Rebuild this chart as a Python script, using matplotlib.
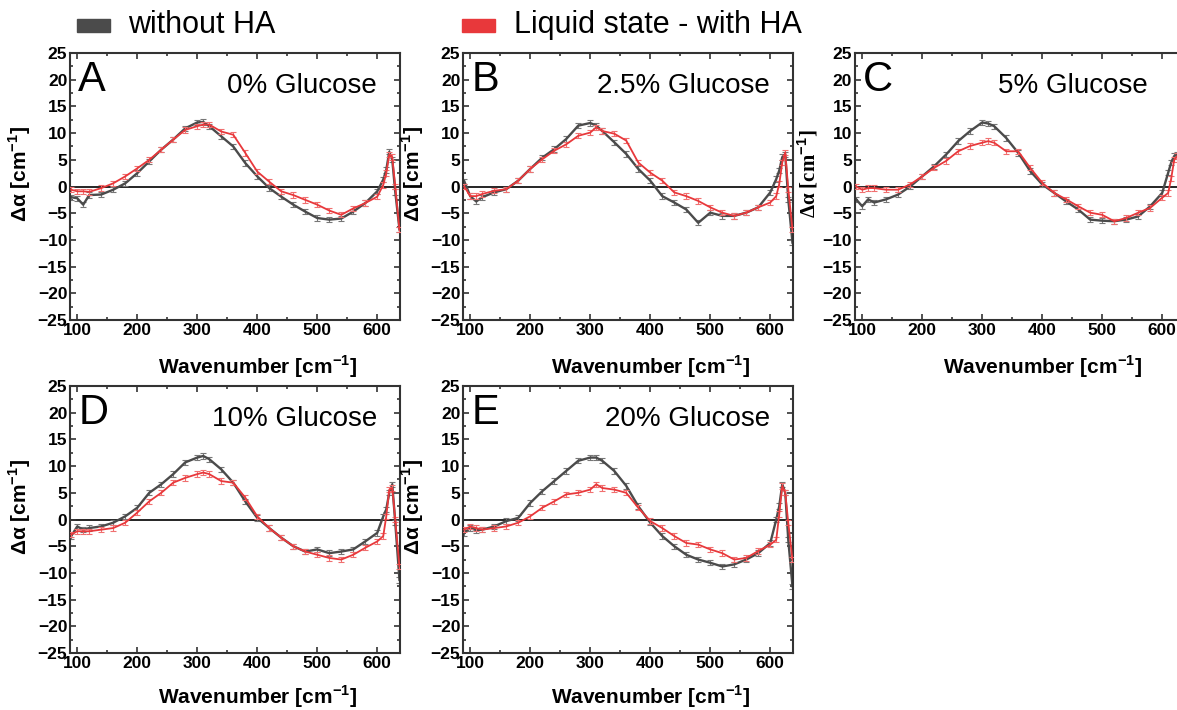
import numpy as np
import matplotlib.pyplot as plt
from matplotlib.patches import Rectangle
from matplotlib.ticker import MultipleLocator

plt.rcParams['font.family'] = ['Liberation Sans', 'DejaVu Sans']
plt.rcParams['mathtext.fontset'] = 'custom'
plt.rcParams['mathtext.rm'] = 'Liberation Sans'
plt.rcParams['mathtext.bf'] = 'Liberation Sans:bold'

# wavenumber grid (cm-1) the curves were read at
wn = [90, 100, 110, 120, 140, 160, 180, 200, 220, 240, 260, 280, 300, 310, 320,
      340, 360, 380, 400, 420, 440, 460, 480, 500, 520, 540, 560, 580, 600,
      610, 615, 620, 625, 630, 637]

# without HA (gray)
a_gray = [-2.0, -2.2, -3.4, -1.6, -1.5, -0.6, 0.6, 2.5, 4.7, 6.9, 8.8, 10.9, 12.0, 12.1, 11.3,
          9.4, 7.5, 4.4, 1.9, -0.3, -1.9, -3.4, -4.7, -5.9, -6.2, -6.0, -4.7, -3.1, -0.9,
          1.3, 3.1, 6.5, 5.0, -1.0, -8.0]
b_gray = [1.0, -1.8, -2.8, -2.0, -1.1, -0.5, 1.1, 3.3, 5.4, 7.0, 8.9, 11.4, 11.9, 11.4, 10.4,
          8.3, 6.1, 3.3, 1.1, -1.8, -3.0, -4.3, -6.8, -4.9, -5.5, -5.5, -4.9, -3.9, -1.1,
          1.4, 3.0, 5.5, 6.0, -2.4, -10.5]
c_gray = [-2.4, -3.7, -2.4, -3.0, -2.4, -1.5, 0.0, 1.9, 3.8, 6.0, 8.5, 10.4, 12.0, 11.8, 11.3,
          9.1, 6.3, 2.9, 0.4, -1.2, -2.8, -4.3, -6.2, -6.4, -6.5, -6.2, -5.6, -3.7, -1.2,
          2.6, 4.5, 5.7, 6.0, 4.0, -4.0]
d_gray = [-3.1, -1.3, -1.9, -1.6, -1.3, -0.6, 0.6, 2.2, 5.0, 6.6, 8.5, 10.7, 11.6, 11.9, 11.3,
          9.4, 6.9, 3.4, 0.3, -1.6, -3.4, -5.0, -6.0, -5.6, -6.3, -6.0, -5.6, -4.1, -2.5,
          0.6, 1.9, 5.0, 6.6, -0.6, -11.3]
e_gray = [-2.5, -1.6, -2.0, -1.9, -1.3, -0.3, 0.3, 3.1, 5.3, 7.2, 9.1, 11.0, 11.6, 11.6, 11.0,
          9.1, 6.3, 2.5, -0.6, -3.1, -5.0, -6.6, -7.5, -8.1, -8.8, -8.4, -7.5, -6.3, -4.4,
          0.0, 2.5, 6.6, 5.0, -3.8, -12.5]

# liquid state - with HA (red)
a_red = [-0.6, -0.9, -0.9, -1.0, -0.3, 0.6, 1.9, 3.4, 5.0, 6.9, 8.8, 10.6, 11.3, 11.6, 11.6,
         10.3, 9.7, 6.3, 2.8, 0.9, -0.9, -1.6, -2.5, -3.4, -4.5, -5.3, -4.1, -3.1, -1.9,
         0.3, 2.5, 6.0, 5.5, 0.0, -8.1]
b_red = [0.0, -1.8, -1.8, -1.4, -0.8, -0.5, 1.1, 3.3, 5.1, 6.7, 7.9, 9.5, 10.1, 11.1, 10.4,
         9.9, 8.6, 4.5, 2.6, 1.1, -1.1, -1.8, -2.7, -3.9, -4.9, -5.5, -4.9, -3.9, -3.0,
         -1.8, 0.5, 4.5, 6.4, -0.5, -8.0]
c_red = [0.0, -0.6, -0.3, -0.3, -0.6, -0.6, 0.4, 1.9, 3.5, 4.8, 6.6, 7.6, 8.2, 8.5, 8.2,
         6.6, 6.6, 3.5, 0.7, -1.2, -2.4, -3.7, -4.9, -5.3, -6.5, -5.9, -4.9, -4.0, -2.1,
         -1.2, 1.5, 5.0, 5.7, 3.0, -5.0]
d_red = [-2.8, -2.2, -2.2, -2.2, -1.9, -1.6, -0.6, 1.3, 3.4, 5.0, 6.9, 7.8, 8.5, 8.8, 8.5,
         7.2, 6.9, 4.1, 0.6, -1.6, -3.4, -5.0, -6.0, -6.6, -7.2, -7.5, -6.6, -5.3, -4.1,
         -3.1, 0.6, 5.6, 5.9, 0.0, -8.8]
e_red = [-1.9, -1.3, -1.6, -1.9, -1.6, -1.3, -0.6, 0.6, 2.2, 3.4, 4.7, 5.0, 5.6, 6.6, 5.9,
         5.6, 5.0, 2.2, -0.3, -1.6, -3.1, -4.4, -4.7, -5.6, -6.3, -7.5, -7.2, -5.9, -4.7,
         -3.8, 1.0, 6.3, 5.0, -0.6, -7.5]

letters = ['A', 'B', 'C', 'D', 'E']
titles = ['0% Glucose', '2.5% Glucose', '5% Glucose', '10% Glucose', '20% Glucose']
title_x = [0.93, 0.93, 0.888, 0.93, 0.93]
grays = [a_gray, b_gray, c_gray, d_gray, e_gray]
reds = [a_red, b_red, c_red, d_red, e_red]

GRAY = '#4b4b4b'
RED = '#e8383b'

fig = plt.figure(figsize=(11.77, 7.10), dpi=100)

W, H = 0.2804, 0.376
pos = [(0.0595, 0.5493), (0.3934, 0.5493), (0.7264, 0.5493),
       (0.0595, 0.0803), (0.3934, 0.0803)]

for i in range(5):
    ax = fig.add_axes([pos[i][0], pos[i][1], W, H])
    ax.axhline(0, color='black', lw=1.2, zorder=1)
    ax.errorbar(wn, grays[i], yerr=0.5, color=GRAY, lw=1.7, elinewidth=0.8,
                ecolor='#777777', capsize=2, capthick=0.8, zorder=2)
    ax.errorbar(wn, reds[i], yerr=0.5, color=RED, lw=1.3, elinewidth=0.8,
                ecolor='#f07070', capsize=2, capthick=0.8, zorder=3)
    ax.set_xlim(88, 638)
    ax.set_ylim(-25, 25)
    ax.xaxis.set_major_locator(MultipleLocator(100))
    ax.xaxis.set_minor_locator(MultipleLocator(50))
    ax.yaxis.set_major_locator(MultipleLocator(5))
    ax.yaxis.set_minor_locator(MultipleLocator(2.5))
    ax.tick_params(which='both', direction='in', top=True, right=True,
                   labelsize=12.5, width=1.2, color='#333333', pad=2)
    ax.tick_params(which='major', length=4.5)
    ax.tick_params(which='minor', length=2.5)
    for lab in ax.get_xticklabels() + ax.get_yticklabels():
        lab.set_fontweight('bold')
    for s in ax.spines.values():
        s.set_linewidth(1.5)
        s.set_color('#333333')
    ax.set_xlabel(r'Wavenumber [cm$^{\mathbf{-1}}$]', fontsize=15, fontweight='bold')
    # bottom row sits right at the figure edge, nudge it up a little
    ax.xaxis.set_label_coords(0.57, -0.125 if i < 3 else -0.113)
    if i == 2:
        ax.set_ylabel(r'Δα [cm$^{\mathbf{-1}}$]', fontsize=15, fontweight='bold',
                      family=['Liberation Serif', 'DejaVu Serif'])
        ax.yaxis.set_label_coords(-0.106, 0.547)
    else:
        ax.set_ylabel(r'Δα [cm$^{\mathbf{-1}}$]', fontsize=15, fontweight='bold')
        ax.yaxis.set_label_coords(-0.113, 0.547)
    ax.text(0.025, 0.975, letters[i], transform=ax.transAxes, fontsize=30,
            va='top', ha='left')
    ax.text(title_x[i], 0.875, titles[i], transform=ax.transAxes, fontsize=20,
            va='center', ha='right')

# legend at the top
fig.patches.append(Rectangle((77 / 1177, 1 - 32 / 710), 33 / 1177, 13 / 710,
                             transform=fig.transFigure, color=GRAY))
fig.text(128 / 1177, 1 - 25 / 710, 'without HA', fontsize=22, va='center')
fig.patches.append(Rectangle((462 / 1177, 1 - 32 / 710), 33 / 1177, 13 / 710,
                             transform=fig.transFigure, color=RED))
fig.text(514 / 1177, 1 - 25 / 710, 'Liquid state - with HA', fontsize=22, va='center')

fig.savefig('out.png', dpi=100)
